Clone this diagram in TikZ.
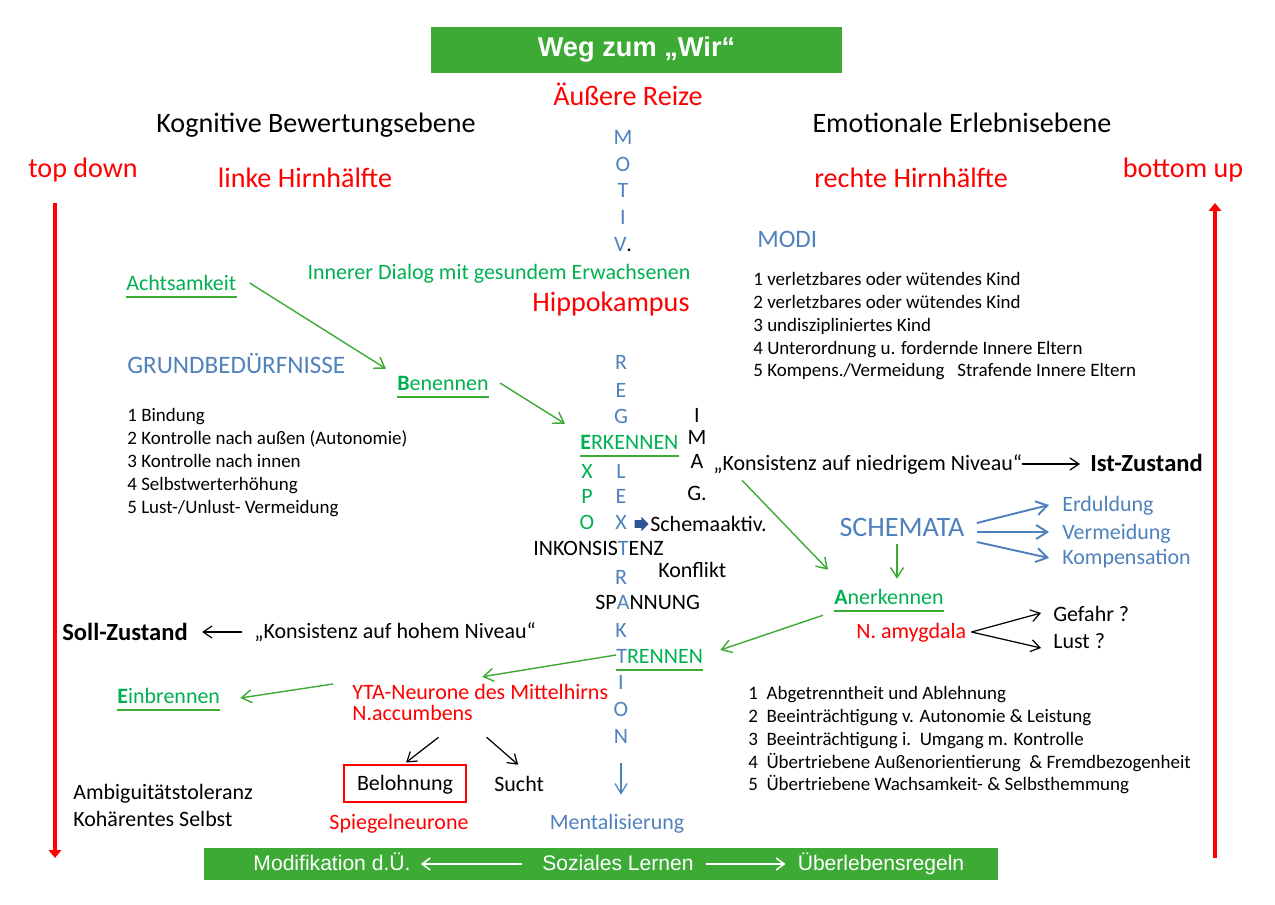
\documentclass[tikz,border=0pt]{standalone}
\usepackage{fontspec}
\setmainfont{Carlito}
\newfontfamily\arialfont{Liberation Sans}
\usepackage{tikz}
\usetikzlibrary{arrows.meta,positioning,calc,shapes.arrows}
\definecolor{barGreen}{HTML}{3DAA35}
\definecolor{txtGreen}{HTML}{00B050}
\definecolor{lineGreen}{HTML}{3DAA35}
\definecolor{ofBlue}{HTML}{4F81BD}
\definecolor{navyBlue}{HTML}{2F5496}

\begin{document}
\begin{tikzpicture}[
    x=0.02cm, y=-0.02cm,
    lbl/.style={inner sep=0pt, text height=0.84em, text depth=0.06em},
    body/.style={lbl, anchor=west, font=\fontsize{10.8}{13}\selectfont},
    mid/.style={lbl, font=\fontsize{12.5}{15}\selectfont},
    hdr/.style={lbl, font=\fontsize{16}{19}\selectfont},
    capsb/.style={lbl, text=ofBlue, anchor=west, font=\fontsize{14.3}{17}\selectfont},
    vlet/.style={lbl, font=\fontsize{12.5}{15}\selectfont},
    zustand/.style={lbl, anchor=west, font=\fontsize{14}{17}\selectfont\bfseries},
    barlbl/.style={lbl, text=white, font=\arialfont\fontsize{12}{14}\selectfont},
    garrow/.style={draw=lineGreen, line width=0.8pt, -{Straight Barb[length=2mm,width=2.6mm]}},
    barrow/.style={draw=ofBlue, line width=1.1pt, -{Straight Barb[length=2.2mm,width=2.8mm]}},
    bthin/.style={draw=ofBlue, line width=0.7pt, -{Straight Barb[length=2mm,width=2.4mm]}},
    karrow/.style={draw=black, line width=0.7pt, -{Straight Barb[length=1.8mm,width=2.4mm]}},
    warrow/.style={draw=white, line width=0.9pt, -{Straight Barb[length=1.6mm,width=2.4mm]}},
    redarrow/.style={draw=red, line width=2.8pt, -{Triangle[length=4.5pt,width=7pt]}},
    uline/.style={draw=lineGreen, line width=1.3pt},
]
    \useasboundingbox (0,0) rectangle (1275,905);

    % Kopf
    \node[fill=barGreen, minimum width=8.22cm, minimum height=0.92cm, inner sep=0pt,
          text=white, font=\arialfont\fontsize{15.5}{18}\selectfont\bfseries]
         (title) at (636.5,50) {Weg zum „Wir“};
    \node[hdr, red] (reize) at (628,99) {Äußere Reize};
    \node[hdr] (kogn) at (316,126) {Kognitive Bewertungsebene};
    \node[hdr] (emot) at (962,126) {Emotionale Erlebnisebene};
    \node[hdr, red] (topdown) at (83,171) {top down};
    \node[hdr, red] (linke) at (305,181) {linke Hirnhälfte};
    \node[hdr, red] (rechte) at (911,181) {rechte Hirnhälfte};
    \node[hdr, red] (bottomup) at (1183,171) {bottom up};

    \coordinate (ltop) at (55,203);
    \coordinate (lbot) at (55,858);
    \coordinate (rbot) at (1215,858);
    \coordinate (rtop) at (1215,203);
    \draw[redarrow] (ltop) -- (lbot);
    \draw[redarrow] (rbot) -- (rtop);

    \foreach \ch/\yy in {M/138, O/165, T/191, I/218, {V\textcolor{black}{.}}/245}
        \node[vlet, ofBlue] (mot\yy) at (623,\yy) {\ch};
    \node[mid, txtGreen] (dialog) at (499,273) {Innerer Dialog mit gesundem Erwachsenen};
    \node[hdr, red] (hippo) at (611,305) {Hippokampus};

    % Modi
    \node[capsb] (modi) at (757,241) {MODI};
    \foreach \t [count=\i] in {1 verletzbares oder wütendes Kind,
            2 verletzbares oder wütendes Kind, 3 undiszipliniertes Kind,
            4 Unterordnung u. fordernde Innere Eltern,
            5 Kompens./Vermeidung\ \ \ Strafende Innere Eltern}
        \node[body] (modi\i) at (753,{279+22.75*(\i-1)}) {\t};

    % Grundbeduerfnisse
    \node[mid, txtGreen, anchor=west] (achts) at (126,284) {Achtsamkeit};
    \node[capsb] (grund) at (127,367) {GRUNDBEDÜRFNISSE};
    \node[mid, txtGreen, anchor=west] (benennen) at (397,384) {\textbf{B}enennen};
    \foreach \t [count=\i] in {1 Bindung, 2 Kontrolle nach außen (Autonomie),
            3 Kontrolle nach innen, 4 Selbstwerterhöhung, 5 Lust-/Unlust- Vermeidung}
        \node[body] (grund\i) at (127,{415+23*(\i-1)}) {\t};

    % Mittelsaeule
    \foreach \ch/\yy in {R/363, E/391, G/417, L/472, E/497, X/523, R/578, K/631,
                         I/683, O/710, N/737}
        \node[vlet, ofBlue] (col\yy) at (621,\yy) {\ch};
    \foreach \ch/\yy in {X/472, P/497, O/523}
        \node[vlet, txtGreen] (expo\yy) at (587,\yy) {\ch};
    \foreach \ch/\yy in {I/416, M/438, A/462, G./494}
        \node[vlet] (imag\yy) at (697,\yy) {\ch};
    \node[vlet, txtGreen, anchor=west] (erkennen) at (580,443) {\textbf{E}RKENNEN};
    \node[vlet, anchor=west] (inkons) at (533,549) {INKONSIS\textcolor{ofBlue}{T}ENZ};
    \node[vlet, anchor=west] (spann) at (595,603) {SP\textcolor{ofBlue}{A}NNUNG};
    \node[vlet, txtGreen, anchor=west] (trennen) at (616,657) {\textcolor{ofBlue}{T}RENNEN};
    \node[mid, anchor=west] (schakt) at (650,525) {Schemaaktiv.};
    \node[single arrow, fill=navyBlue, inner sep=2pt, minimum height=0.28cm,
          single arrow head extend=1.8pt, anchor=east] (sarrow) at ($(schakt.west)+(-1,-1)$) {};
    \node[mid, anchor=west] (konflikt) at (658,571) {Konflikt};
    \node[mid, anchor=west] (niedrig) at (713,464) {„Konsistenz auf niedrigem Niveau“};
    \node[zustand] (ist) at (1090,465) {Ist-Zustand};

    % Schemata
    \node[lbl, ofBlue, font=\fontsize{16}{19}\selectfont] (schemata) at (902,530) {SCHEMATA};
    \foreach \name/\t/\yy in {erd/Erduldung/505, verm/Vermeidung/533, komp/Kompensation/558}
        \node[mid, ofBlue, anchor=west] (\name) at (1062,\yy) {\t};
    \node[mid, txtGreen, anchor=west] (anerk) at (834,598) {\textbf{A}nerkennen};
    \node[mid, red, anchor=west] (amyg) at (856,632) {N. amygdala};
    \node[mid, anchor=west] (gefahr) at (1053,615) {Gefahr ?};
    \node[mid, anchor=west] (lust) at (1053,642) {Lust ?};

    % unten links
    \node[zustand] (soll) at (62,634) {Soll-Zustand};
    \node[mid, anchor=west] (hohem) at (254,632) {„Konsistenz auf hohem Niveau“};
    \node[mid, red, anchor=west] (yta) at (352,693) {YTA-Neurone des Mittelhirns};
    \node[mid, red, anchor=west] (nacc) at (352,714) {N.accumbens};
    \node[mid, txtGreen, anchor=west] (einbr) at (117,697) {\textbf{E}inbrennen};
    \node[mid, draw=red, line width=0.6pt, minimum width=2.44cm, minimum height=0.74cm]
         (beloh) at (405,783.5) {Belohnung};
    \node[mid, anchor=west] (sucht) at (494,785) {Sucht};
    \node[mid, red] (spiegel) at (399,823) {Spiegelneurone};
    \node[mid, ofBlue] (ment) at (617,823) {Mentalisierung};
    \node[mid, anchor=west] (ambig) at (73,793) {Ambiguitätstoleranz};
    \node[mid, anchor=west] (kohaer) at (73,820) {Kohärentes Selbst};
    \foreach \t [count=\i] in {1\ \ Abgetrenntheit und Ablehnung,
            2\ \ Beeinträchtigung v. Autonomie \& Leistung,
            3\ \ Beeinträchtigung i.\ \ Umgang m. Kontrolle,
            4\ \ Übertriebene Außenorientierung\ \ \& Fremdbezogenheit,
            5\ \ Übertriebene Wachsamkeit- \& Selbsthemmung}
        \node[body] (schema\i) at (748,{693+22.75*(\i-1)}) {\t};

    % Leiste unten
    \node[fill=barGreen, inner sep=0pt, minimum width=15.9cm, minimum height=0.64cm]
         (bar) at (601,864) {};
    \node[barlbl] (modif) at (332,864) {Modifikation d.Ü.};
    \node[barlbl] (sozial) at (618,864) {Soziales Lernen};
    \node[barlbl] (regeln) at (881,864) {Überlebensregeln};

    % Unterstriche
    \foreach \n in {achts, benennen, erkennen, trennen, anerk, einbr}
        \draw[uline] ($(\n.south west)+(0,5)$) -- ($(\n.south east)+(0,5)$);

    % Pfeile
    \draw[garrow] ($(achts.east)+(13,-1)$) -- ($(benennen.north west)+(-11,-7)$);
    \draw[garrow] ($(benennen.east)+(11,-1)$) -- ($(erkennen.north west)+(-15,-11)$);
    \draw[garrow] ($(niedrig.south west)+(29,8)$) -- ($(anerk.north west)+(-6,-20)$);
    \draw[garrow] ($(schemata.south)+(-5,6)$) -- ($(schemata.south |- anerk.north)+(-5,-11)$);
    \draw[garrow] ($(anerk.south west)+(-11,9)$) -- ($(trennen.east)+(17,-7)$);
    \draw[garrow] ($(trennen.west)+(0,-2)$) -- ($(yta.north)+(2,-8)$);
    \draw[garrow] ($(yta.west)+(-19,-9)$) -- ($(einbr.east)+(20,1)$);
    \draw[barrow] ($(schemata.east)+(12,-7)$) -- ($(erd.west)+(-13,0)$);
    \draw[barrow] ($(schemata.east)+(12,2)$) -- ($(verm.west)+(-13,-1)$);
    \draw[barrow] ($(schemata.east)+(12,12)$) -- ($(komp.west)+(-13,0)$);
    \draw[bthin] ($(col737.south)+(0,18)$) -- ($(col737.south |- ment.north)+(0,-20)$);
    \draw[karrow] (niedrig.east) -- ($(ist.west)+(-10,-1)$);
    \draw[karrow] ($(amyg.east)+(5,0)$) -- ($(gefahr.west)+(-12,-2)$);
    \draw[karrow] ($(amyg.east)+(5,0)$) -- ($(lust.west)+(-12,6)$);
    \draw[karrow] ($(hohem.west)+(-12,0)$) -- ($(soll.east)+(14,-2)$);
    \draw[karrow] ($(nacc.south)+(26,15)$) -- ($(beloh.north)+(1,-2)$);
    \draw[karrow] ($(nacc.south)+(74,15)$) -- ($(sucht.north)+(-1,-12)$);
    \draw[warrow] ($(sozial.west)+(-20,0)$) -- ($(modif.east)+(10,0)$);
    \draw[warrow] ($(sozial.east)+(12,0)$) -- ($(regeln.west)+(-12,0)$);
\end{tikzpicture}
\end{document}
